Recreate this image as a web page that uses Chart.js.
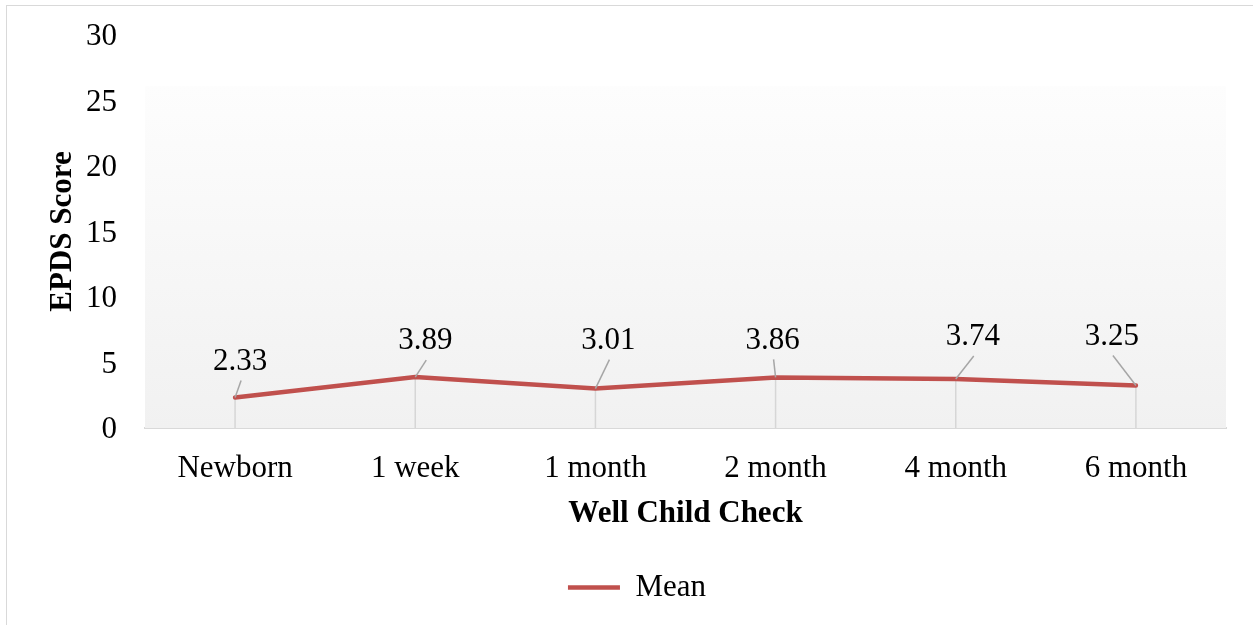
<!DOCTYPE html>
<html>
<head>
<meta charset="utf-8">
<script src="https://cdn.jsdelivr.net/npm/chart.js@4.4.1/dist/chart.umd.min.js"></script>
<style>
    html, body { margin: 0; padding: 0; background: #fff; }
    #wrap { position: relative; width: 1253px; height: 625px; overflow: hidden; }
    #frame { position: absolute; left: 6px; top: 5px; width: 1300px; height: 700px;
             border-left: 1.5px solid #d9d9d9; border-top: 1.5px solid #d9d9d9; }
    #meanChart { position: absolute; left: 0; top: 0; }
</style>
</head>
<body>
<div id="wrap">
    <div id="frame"></div>
    <canvas id="meanChart" width="1253" height="625"></canvas>
</div>
<script>
// data
const checks = ['Newborn', '1 week', '1 month', '2 month', '4 month', '6 month'];
const meanScores = [2.33, 3.89, 3.01, 3.86, 3.74, 3.25];
const yTicks = [0, 5, 10, 15, 20, 25, 30];

// where each value label sits relative to its point (px), moved by hand in the original
const labelOffsets = [[5, -38], [10, -38], [13, -50], [-3, -39], [17, -44], [-24, -51]];

const serif = 'Liberation Serif';
const lineColor = '#c0504d';

// gradient plot background + drop lines
const backdrop = {
    id: 'backdrop',
    beforeDatasetsDraw(chart) {
        const { ctx, chartArea } = chart;
        const y = chart.scales.y;
        const top = y.getPixelForValue(26.1);
        const g = ctx.createLinearGradient(0, top, 0, chartArea.bottom);
        g.addColorStop(0, '#fdfdfd');
        g.addColorStop(1, '#f1f1f1');
        ctx.save();
        ctx.fillStyle = g;
        ctx.fillRect(chartArea.left, top, chartArea.right - chartArea.left, chartArea.bottom - top);

        ctx.strokeStyle = '#d6d6d6';
        ctx.lineWidth = 1.5;
        chart.getDatasetMeta(0).data.forEach(pt => {
            ctx.beginPath();
            ctx.moveTo(pt.x, pt.y);
            ctx.lineTo(pt.x, chartArea.bottom);
            ctx.stroke();
        });
        ctx.restore();
    }
};

// value labels with leader lines
const valueLabels = {
    id: 'valueLabels',
    afterDatasetsDraw(chart) {
        const { ctx } = chart;
        ctx.save();
        ctx.font = '31px "' + serif + '"';
        ctx.textAlign = 'center';
        ctx.textBaseline = 'middle';
        chart.getDatasetMeta(0).data.forEach((pt, i) => {
            const lx = pt.x + labelOffsets[i][0];
            const ly = pt.y + labelOffsets[i][1];
            ctx.strokeStyle = '#a6a6a6';
            ctx.lineWidth = 1.5;
            ctx.beginPath();
            ctx.moveTo(pt.x, pt.y);
            ctx.lineTo(lx + 1, ly + 21);
            ctx.stroke();
            ctx.fillStyle = '#000';
            ctx.fillText(meanScores[i].toFixed(2), lx, ly + 2);
        });
        ctx.restore();
    }
};

// nudge the legend to where the original has it
const legendShift = {
    id: 'legendShift',
    afterLayout(chart) {
        if (chart.legend) {
            chart.legend.left += 24;
            chart.legend.right += 24;
        }
    }
};

const ctx = document.getElementById('meanChart').getContext('2d');
new Chart(ctx, {
    type: 'line',
    data: {
        labels: checks,
        datasets: [{
            label: 'Mean',
            data: meanScores,
            borderColor: lineColor,
            backgroundColor: lineColor,
            borderWidth: 4.5,
            borderCapStyle: 'round',
            pointRadius: 0,
            pointHoverRadius: 0,
            tension: 0,
            fill: false
        }]
    },
    options: {
        responsive: false,
        animation: false,
        layout: {
            padding: { left: 0, top: 35, right: 27, bottom: 12 }
        },
        plugins: {
            tooltip: { enabled: false },
            legend: {
                position: 'bottom',
                labels: {
                    usePointStyle: true,
                    pointStyle: 'line',
                    pointStyleWidth: 52,
                    color: '#000',
                    font: { family: serif, size: 31 }
                }
            }
        },
        scales: {
            x: {
                offset: true,
                afterFit(scale) {
                    scale.height = 134;
                },
                grid: { display: false, drawTicks: false, tickLength: 0 },
                border: { display: true, color: '#d9d9d9', width: 2 },
                ticks: {
                    color: '#000',
                    padding: 22,
                    maxRotation: 0,
                    font: { family: serif, size: 31 }
                },
                title: {
                    display: true,
                    text: 'Well Child Check',
                    color: '#000',
                    padding: { top: 8, bottom: 29 },
                    font: { family: serif, size: 31, weight: 'bold' }
                }
            },
            y: {
                min: yTicks[0],
                max: yTicks[yTicks.length - 1],
                afterBuildTicks(scale) {
                    scale.ticks = yTicks.map(v => ({ value: v }));
                },
                afterFit(scale) {
                    scale.width = 145;
                    // the label padding would otherwise push the plot top down
                    scale.paddingTop = 0;
                    scale.paddingBottom = 0;
                },
                grid: { display: false, drawTicks: false, tickLength: 0 },
                border: { display: false },
                ticks: {
                    color: '#000',
                    padding: 28,
                    labelOffset: 2,
                    font: { family: serif, size: 31 }
                },
                title: {
                    display: true,
                    text: 'EPDS Score',
                    color: '#000',
                    padding: { top: 44, bottom: 0 },
                    font: { family: serif, size: 31, weight: 'bold' }
                }
            }
        }
    },
    plugins: [backdrop, valueLabels, legendShift]
});
</script>
</body>
</html>
